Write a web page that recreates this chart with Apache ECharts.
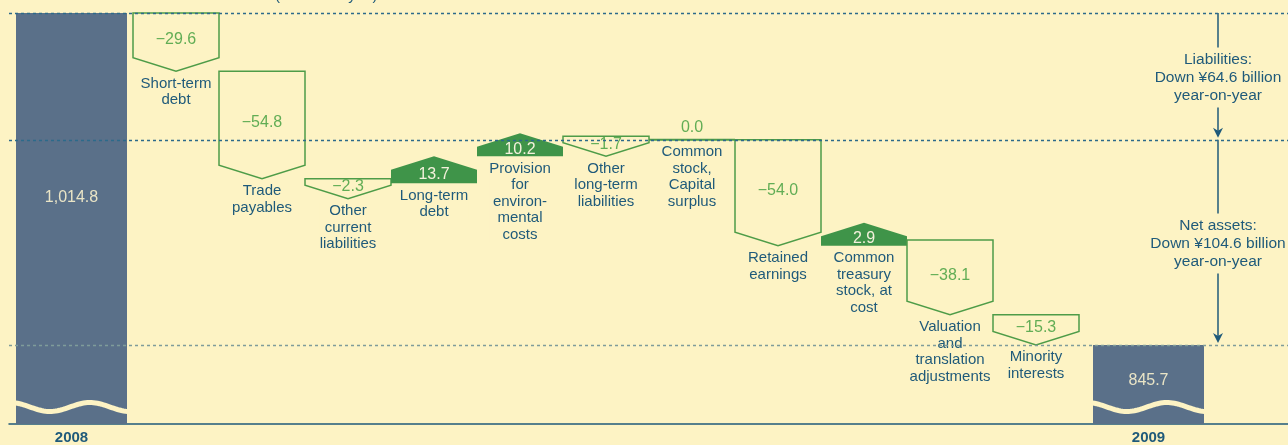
<!DOCTYPE html>
<html>
<head>
<meta charset="utf-8">
<title>Balance sheet changes 2008-2009</title>
<script src="https://cdn.jsdelivr.net/npm/echarts@6/dist/echarts.min.js"></script>
<style>
  html, body { margin: 0; padding: 0; background: #fdf3c4; }
  #chart { width: 1288px; height: 445px; }
</style>
</head>
<body>
<div id="chart"></div>
<script>
// ---- data (billions of yen) ----
const CATEGORIES = [
    'Short-term\ndebt', 'Trade\npayables', 'Other\ncurrent\nliabilities', 'Long-term\ndebt',
    'Provision\nfor\nenviron-\nmental\ncosts', 'Other\nlong-term\nliabilities',
    'Common\nstock,\nCapital\nsurplus', 'Retained\nearnings', 'Common\ntreasury\nstock, at\ncost',
    'Valuation\nand\ntranslation\nadjustments', 'Minority\ninterests'
];
const CHANGES = [-29.6, -54.8, -2.3, 13.7, 10.2, -1.7, 0.0, -54.0, 2.9, -38.1, -15.3];
const YEARS = ['2008', '2009'];
const YEAR_TOTALS = [1014.8, 845.7];
const NOTE_TITLES = ['Liabilities:', 'Net assets:'];
const NOTE_DROPS = [64.6, 104.6];
const UNIT_NOTE = '(Billions of yen)';

// ---- style ----
const BG = '#fdf3c4';
const NAVY = '#1f5a7a';
const YEAR_BLUE = '#5a7089';
const GREEN_LINE = '#4e9c48';
const GREEN_TEXT = '#62ad55';
const GREEN_FILL = '#3f9449';
const DASH_DARK = '#2c6a8a';
const DASH_LIGHT = '#7f9c9a';
const FONT = '"Liberation Sans", Arial, Helvetica, sans-serif';
const Y_MIN = 805.5;          // axis is broken below this
const Y_MAX = YEAR_TOTALS[0];
const TIP = 13.5, MIN_DOWN = 20, MIN_UP = 23;
const YEAR_BAR_W = 111;

// waterfall steps: [index, from, to, change]
let level = YEAR_TOTALS[0];
const stepData = CHANGES.map(function (c, i) {
    const from = level;
    level = +(level + c).toFixed(1);
    return [i, from, level, c];
});
const yearData = YEAR_TOTALS.map(function (v, i) { return [i, v]; });
const LEVELS = [YEAR_TOTALS[0], +(YEAR_TOTALS[0] - NOTE_DROPS[0]).toFixed(1), YEAR_TOTALS[1]];
const noteData = [[0, LEVELS[0], LEVELS[1], 0], [0, LEVELS[1], LEVELS[2], 1]];

function valueText(x, y, text, color) {
    return { type: 'text', style: { text: text, x: x, y: y, align: 'center', verticalAlign: 'middle',
        fill: color, fontSize: 16, fontFamily: FONT } };
}

function renderStep(params, api) {
    const i = api.value(0), from = api.value(1), to = api.value(2), change = api.value(3);
    const a = api.coord([i, from]), b = api.coord([i, to]);
    const w = api.size([1, 0])[0];
    const cx = a[0], x0 = cx - w / 2, x1 = cx + w / 2;
    const children = [];
    let labelTop;
    if (change < 0) {
        const top = a[1], tip = Math.max(b[1], top + MIN_DOWN), sh = tip - TIP;
        children.push({ type: 'polygon', shape: { points: [[x0, top], [x1, top], [x1, sh], [cx, tip], [x0, sh]] },
            style: { fill: BG, stroke: GREEN_LINE, lineWidth: 1.5 } });
        children.push(valueText(cx, (top + tip) / 2 - 2, '\u2212' + Math.abs(change).toFixed(1), GREEN_TEXT));
        labelTop = tip + 4;
    } else if (change > 0) {
        const base = a[1], peak = Math.min(b[1], base - MIN_UP), sh = peak + TIP;
        children.push({ type: 'polygon', shape: { points: [[x0, base], [x0, sh], [cx, peak], [x1, sh], [x1, base]] },
            style: { fill: GREEN_FILL } });
        children.push(valueText(cx, (sh + base) / 2 - 2, change.toFixed(1), '#f4f1dc'));
        labelTop = base + 4;
    } else {
        children.push({ type: 'line', shape: { x1: x0, y1: a[1], x2: x1, y2: a[1] },
            style: { stroke: GREEN_LINE, lineWidth: 2 } });
        children.push(valueText(cx, a[1] - 12, change.toFixed(1), GREEN_TEXT));
        labelTop = a[1] + 4;
    }
    children.push({ type: 'text', style: { text: CATEGORIES[i], x: cx, y: labelTop, align: 'center',
        verticalAlign: 'top', fill: NAVY, fontSize: 15, fontFamily: FONT, lineHeight: 16.5,
        backgroundColor: BG } });
    return { type: 'group', children: children };
}

function renderYear(params, api) {
    const i = api.value(0), v = api.value(1);
    const top = api.coord([i, v]), base = api.coord([i, Y_MIN]);
    const cx = top[0];
    const h = base[1] - top[1];
    // wavy "axis break" band near the bottom
    const wave = [];
    const wy = base[1] - 17;
    for (let dx = -62; dx <= 62; dx += 2) {
        wave.push([cx + dx, wy - 4.5 * Math.cos(2 * Math.PI * (dx + 61.5) / 80)]);
    }
    return { type: 'group', children: [
        { type: 'rect', shape: { x: cx - YEAR_BAR_W / 2, y: top[1], width: YEAR_BAR_W, height: h },
          style: { fill: YEAR_BLUE } },
        { type: 'polyline', shape: { points: wave }, style: { stroke: BG, lineWidth: 5, fill: null } },
        valueText(cx, top[1] + h * 0.45, v.toLocaleString('en-US', { minimumFractionDigits: 1 }), '#e9e4c6')
    ] };
}

function renderNote(params, api) {
    const from = api.value(1), to = api.value(2), k = api.value(3);
    const cs = params.coordSys;
    const x = cs.x + cs.width - 70;
    const y0 = api.coord([0, from])[1], y1 = api.coord([0, to])[1];
    const mid = (y0 + y1) / 2 + 1, half = 27;
    const tip = y1 - 2;
    const stroke = { stroke: NAVY, lineWidth: 1.5 };
    return { type: 'group', children: [
        { type: 'line', shape: { x1: x, y1: y0, x2: x, y2: mid - half - 3 }, style: stroke },
        { type: 'line', shape: { x1: x, y1: mid + half + 3, x2: x, y2: tip - 6 }, style: stroke },
        { type: 'polygon', shape: { points: [[x - 5, tip - 10], [x, tip - 7], [x + 5, tip - 10], [x, tip]] },
          style: { fill: NAVY } },
        { type: 'text', style: { text: NOTE_TITLES[k] + '\nDown \u00a5' + NOTE_DROPS[k].toFixed(1) + ' billion\nyear-on-year',
          x: x, y: mid, align: 'center', verticalAlign: 'middle', lineHeight: 18,
          fill: NAVY, fontSize: 15.5, fontFamily: FONT } }
    ] };
}

function yAxisFor(g) {
    return { type: 'value', gridIndex: g, min: Y_MIN, max: Y_MAX, show: false };
}

const chart = echarts.init(document.getElementById('chart'));
chart.setOption({
    backgroundColor: BG,
    animation: false,
    graphic: [{ type: 'text', left: 275, top: -12,
        style: { text: UNIT_NOTE, fill: NAVY, fontSize: 15, fontFamily: FONT } }],
    grid: [
        { left: 133, right: 209, top: 13, bottom: 21 },
        { left: 71.5, right: 139.5, top: 13, bottom: 21 },
        { left: 9, right: 0, top: 13, bottom: 21 }
    ],
    xAxis: [
        { type: 'category', gridIndex: 0, data: CATEGORIES, show: false },
        { type: 'category', gridIndex: 1, data: YEARS, boundaryGap: false,
          axisLine: { show: false }, axisTick: { show: false },
          axisLabel: { margin: 6, color: NAVY, fontWeight: 'bold', fontSize: 15, fontFamily: FONT } },
        { type: 'value', gridIndex: 2, min: 0, max: 1,
          axisLine: { show: true, onZero: false, lineStyle: { color: NAVY, width: 1.5 } },
          axisTick: { show: false }, axisLabel: { show: false }, splitLine: { show: false } }
    ],
    yAxis: [yAxisFor(0), yAxisFor(1), yAxisFor(2)],
    series: [
        {
            type: 'custom', xAxisIndex: 2, yAxisIndex: 2, z: 1,
            renderItem: renderNote, data: noteData,
            encode: { x: 0, y: [1, 2] },
            markLine: {
                silent: true, symbol: ['none', 'none'], label: { show: false },
                data: LEVELS.map(function (v, k) {
                    return { yAxis: v, lineStyle: { color: k === 2 ? DASH_LIGHT : DASH_DARK, type: [3, 3], width: 1.3 } };
                })
            }
        },
        {
            type: 'custom', xAxisIndex: 1, yAxisIndex: 1, z: 3,
            renderItem: renderYear, data: yearData,
            encode: { x: 0, y: 1 }
        },
        {
            type: 'custom', xAxisIndex: 0, yAxisIndex: 0, z: 3,
            renderItem: renderStep, data: stepData,
            encode: { x: 0, y: [1, 2] }
        }
    ]
});
</script>
</body>
</html>
